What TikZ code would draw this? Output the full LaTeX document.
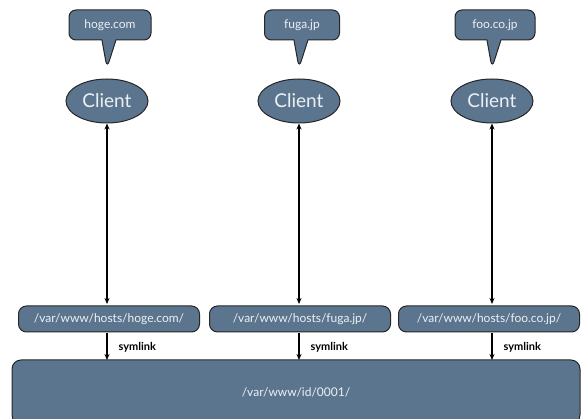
\documentclass[tikz,border=0pt]{standalone}
\usepackage{fontspec}
\setmainfont{Lato}
\usetikzlibrary{shapes.callouts,shapes.geometric,arrows.meta}
\definecolor{slate}{RGB}{92,117,143}
\definecolor{paletext}{RGB}{236,240,244}
\tikzset{
  x=1pt, y=-1pt,
  box/.style={draw=black!85, line width=1pt, fill=slate, text=paletext},
  bubble/.style={box, rectangle callout, rounded corners=7pt, minimum height=30pt,
    callout pointer width=14pt, inner xsep=6pt, font=\fontsize{12}{14}\selectfont},
  client/.style={box, ellipse, minimum width=82pt, minimum height=44pt, inner sep=0pt,
    font=\fontsize{19}{22}\selectfont},
  hostbox/.style={box, rounded corners=8pt, minimum width=181pt, minimum height=26pt,
    inner sep=0pt, font=\fontsize{12}{14}\selectfont},
  link/.style={line width=1.1pt, -{Stealth[length=6pt,width=5pt]}},
  both/.style={line width=1.1pt, {Stealth[length=6pt,width=5pt]}-{Stealth[length=6pt,width=5pt]}},
  tag/.style={font=\bfseries\fontsize{11}{13}\selectfont, anchor=west}
}
\begin{document}
\begin{tikzpicture}
\useasboundingbox (0,0) rectangle (582,419);

% path shared by all hosts
\node[box, rounded corners=9pt, minimum width=568pt, minimum height=64pt, inner sep=0pt,
  font=\fontsize{12}{14}\selectfont] (id) at (296,392) {/var/www/id/0001/};
\fill[white] (0,419) rectangle (582,425);

% the three client columns
\foreach \n/\cx/\hx/\dom/\bw in {a/107/109/hoge.com/82, b/299/300/fuga.jp/75, c/492/489/foo.co.jp/80}{
  \node[client] (cl\n) at (\cx,101) {Client};
  \node[bubble, minimum width=\bw pt, callout absolute pointer={(\cx,68)}] (dom\n) at (\cx+3,25) {\dom};
  \node[hostbox] (host\n) at (\hx,319) {};
  \draw[both] (cl\n.south) -- (\cx,304);
  \coordinate (top\n) at (\cx,333);
  \draw[link] (top\n) -- (\cx,360);
  \node[tag] (sym\n) at (\cx+8,347) {symlink};
}
\node[text=paletext, font=\fontsize{12}{14}\selectfont] (ta) at (hosta) {/var/www/hosts/hoge.com/};
\node[text=paletext, font=\fontsize{12}{14}\selectfont] (tb) at (hostb) {/var/www/hosts/fuga.jp/};
\node[text=paletext, font=\fontsize{12}{14}\selectfont] (tc) at (hostc) {/var/www/hosts/foo.co.jp/};
\end{tikzpicture}
\end{document}
